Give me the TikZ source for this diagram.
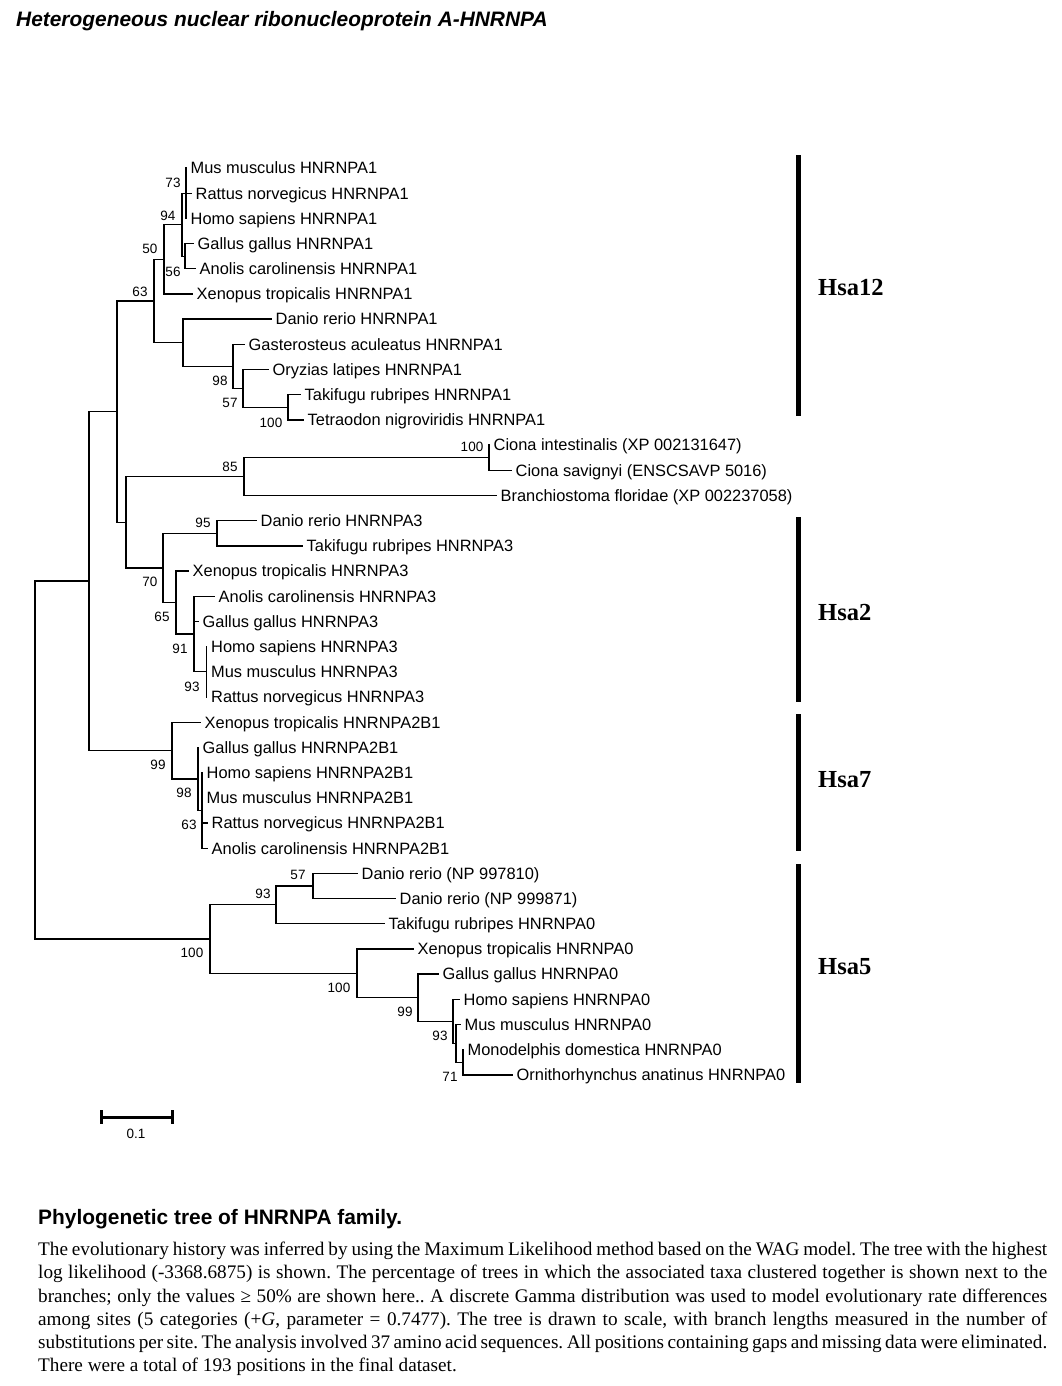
\documentclass[tikz,border=0pt]{standalone}
\usepackage{fontspec}
\setmainfont{Liberation Serif}
\setsansfont{Liberation Sans}
\tikzset{
  branch/.style={line width=1.3pt, line cap=rect},
  leaf/.style={anchor=west, inner xsep=4.5pt, inner ysep=0pt, text height=11.7pt, text depth=0pt, font=\sffamily\fontsize{16.4}{18}\selectfont},
  boot/.style={inner sep=0pt, text height=9.7pt, text depth=0pt, font=\sffamily\fontsize{13.5}{15}\selectfont},
  chrom/.style={line width=5pt},
  chromlabel/.style={anchor=west, inner sep=0pt, font=\bfseries\fontsize{24.5}{28}\selectfont}
}
\begin{document}
\begin{tikzpicture}[x=1pt,y=-1pt]
\useasboundingbox (0,0) rectangle (1061,1386);

\node[anchor=base west, inner sep=0pt, font=\sffamily\bfseries\itshape\fontsize{20.9}{24}\selectfont] (title) at (16,27) {Heterogeneous nuclear ribonucleoprotein A-HNRNPA};

% taxa
\node[leaf] (mmA1) at (186,168.0) {Mus musculus HNRNPA1};
\node[leaf] (rnA1) at (191,193.2) {Rattus norvegicus HNRNPA1};
\node[leaf] (hsA1) at (186,218.4) {Homo sapiens HNRNPA1};
\node[leaf] (ggA1) at (193,243.6) {Gallus gallus HNRNPA1};
\node[leaf] (acA1) at (195,268.8) {Anolis carolinensis HNRNPA1};
\node[leaf] (xtA1) at (192,294.0) {Xenopus tropicalis HNRNPA1};
\node[leaf] (drA1) at (271,319.1) {Danio rerio HNRNPA1};
\node[leaf] (gaA1) at (244,344.3) {Gasterosteus aculeatus HNRNPA1};
\node[leaf] (olA1) at (268,369.5) {Oryzias latipes HNRNPA1};
\node[leaf] (trA1) at (300,394.7) {Takifugu rubripes HNRNPA1};
\node[leaf] (tnA1) at (303,419.9) {Tetraodon nigroviridis HNRNPA1};
\node[leaf] (ciCI) at (489,445.1) {Ciona intestinalis (XP 002131647)};
\node[leaf] (csCI) at (511,470.3) {Ciona savignyi (ENSCSAVP 5016)};
\node[leaf] (bfBR) at (496,495.5) {Branchiostoma floridae (XP 002237058)};
\node[leaf] (drA3) at (256,520.7) {Danio rerio HNRNPA3};
\node[leaf] (trA3) at (302,545.9) {Takifugu rubripes HNRNPA3};
\node[leaf] (xtA3) at (188,571.0) {Xenopus tropicalis HNRNPA3};
\node[leaf] (acA3) at (214,596.2) {Anolis carolinensis HNRNPA3};
\node[leaf] (ggA3) at (198,621.4) {Gallus gallus HNRNPA3};
\node[leaf] (hsA3) at (206.5,646.6) {Homo sapiens HNRNPA3};
\node[leaf] (mmA3) at (206.5,671.8) {Mus musculus HNRNPA3};
\node[leaf] (rnA3) at (206.5,697.0) {Rattus norvegicus HNRNPA3};
\node[leaf] (xtA2) at (200,722.2) {Xenopus tropicalis HNRNPA2B1};
\node[leaf] (ggA2) at (198,747.4) {Gallus gallus HNRNPA2B1};
\node[leaf] (hsA2) at (202,772.6) {Homo sapiens HNRNPA2B1};
\node[leaf] (mmA2) at (202,797.8) {Mus musculus HNRNPA2B1};
\node[leaf] (rnA2) at (207,823.0) {Rattus norvegicus HNRNPA2B1};
\node[leaf] (acA2) at (207,848.2) {Anolis carolinensis HNRNPA2B1};
\node[leaf] (drA0a) at (357,873.3) {Danio rerio (NP 997810)};
\node[leaf] (drA0b) at (395,898.5) {Danio rerio (NP 999871)};
\node[leaf] (trA0) at (384,923.7) {Takifugu rubripes HNRNPA0};
\node[leaf] (xtA0) at (413,948.9) {Xenopus tropicalis HNRNPA0};
\node[leaf] (ggA0) at (438,974.1) {Gallus gallus HNRNPA0};
\node[leaf] (hsA0) at (459,999.3) {Homo sapiens HNRNPA0};
\node[leaf] (mmA0) at (460,1024.5) {Mus musculus HNRNPA0};
\node[leaf] (mdA0) at (463,1049.7) {Monodelphis domestica HNRNPA0};
\node[leaf] (oaA0) at (512,1074.9) {Ornithorhynchus anatinus HNRNPA0};

% inner nodes
\coordinate (n73) at (186,193.2);
\coordinate (n56) at (185,256.2);
\coordinate (n94) at (182,224.7);
\coordinate (n50) at (164,259.4);
\coordinate (n100a) at (288,407.3);
\coordinate (n57a) at (243,388.4);
\coordinate (n98a) at (233,366.4);
\coordinate (nfish) at (183,342.7);
\coordinate (n63a) at (154,301.1);
\coordinate (n100b) at (489,457.7);
\coordinate (n85) at (244,476.6);
\coordinate (n95) at (217,533.3);
\coordinate (n93a) at (206.5,671.8);
\coordinate (n91) at (194,634);
\coordinate (n65) at (176,602.5);
\coordinate (n70) at (163,567.9);
\coordinate (nmid) at (126,522.2);
\coordinate (nup) at (117,411.7);
\coordinate (n63b) at (202,810.4);
\coordinate (n98b) at (198,778.9);
\coordinate (n99a) at (172,750.5);
\coordinate (ntop) at (89,581.1);
\coordinate (n57b) at (313,885.9);
\coordinate (n93b) at (276,904.8);
\coordinate (n71) at (463,1062.3);
\coordinate (nmm) at (456,1043.4);
\coordinate (n93c) at (453,1021.4);
\coordinate (n99b) at (418,997.7);
\coordinate (n100d) at (357,973.3);
\coordinate (n100c) at (210,939.1);
\coordinate (root) at (35,760.1);

% HNRNPA1
\draw[branch] (mmA1.west) -| (n73) |- (hsA1.west);
\draw[branch] (n73) -- (rnA1.west);
\draw[branch] (ggA1.west) -| (n56) |- (acA1.west);
\draw[branch] (n73) -| (n94) |- (n56);
\draw[branch] (n94) -| (n50) |- (xtA1.west);
\draw[branch] (trA1.west) -| (n100a) |- (tnA1.west);
\draw[branch] (olA1.west) -| (n57a) |- (n100a);
\draw[branch] (gaA1.west) -| (n98a) |- (n57a);
\draw[branch] (drA1.west) -| (nfish) |- (n98a);
\draw[branch] (n50) -| (n63a) |- (nfish);
% Ciona, Branchiostoma
\draw[branch] (ciCI.west) -| (n100b) |- (csCI.west);
\draw[branch] (n100b) -| (n85) |- (bfBR.west);
% HNRNPA3
\draw[branch] (drA3.west) -| (n95) |- (trA3.west);
\draw[branch] (hsA3.west) -| (n93a) |- (rnA3.west);
\draw[branch] (acA3.west) -| (n91) |- (n93a);
\draw[branch] (ggA3.west) -| (n91);
\draw[branch] (xtA3.west) -| (n65) |- (n91);
\draw[branch] (n95) -| (n70) |- (n65);
\draw[branch] (n85) -| (nmid) |- (n70);
\draw[branch] (n63a) -| (nup) |- (nmid);
% HNRNPA2B1
\draw[branch] (hsA2.west) -| (n63b) |- (acA2.west);
\draw[branch] (rnA2.west) -| (n63b);
\draw[branch] (ggA2.west) -| (n98b) |- (n63b);
\draw[branch] (xtA2.west) -| (n99a) |- (n98b);
\draw[branch] (nup) -| (ntop) |- (n99a);
% HNRNPA0
\draw[branch] (drA0a.west) -| (n57b) |- (drA0b.west);
\draw[branch] (n57b) -| (n93b) |- (trA0.west);
\draw[branch] (mdA0.west) -| (n71) |- (oaA0.west);
\draw[branch] (mmA0.west) -| (nmm) |- (n71);
\draw[branch] (hsA0.west) -| (n93c) |- (nmm);
\draw[branch] (ggA0.west) -| (n99b) |- (n93c);
\draw[branch] (xtA0.west) -| (n100d) |- (n99b);
\draw[branch] (n93b) -| (n100c) |- (n100d);
\draw[branch] (ntop) -| (root) |- (n100c);

% bootstrap values
\node[boot] (b73) at (173,183) {73};
\node[boot] (b94) at (168,216) {94};
\node[boot] (b50) at (150,249) {50};
\node[boot] (b56) at (173,272) {56};
\node[boot] (b63a) at (140,292) {63};
\node[boot] (b98a) at (220,381) {98};
\node[boot] (b57a) at (230,403) {57};
\node[boot] (b100a) at (271,423) {100};
\node[boot] (b100b) at (472,447) {100};
\node[boot] (b85) at (230,467) {85};
\node[boot] (b95) at (203,523) {95};
\node[boot] (b70) at (150,582) {70};
\node[boot] (b65) at (162,617) {65};
\node[boot] (b91) at (180,649) {91};
\node[boot] (b93a) at (192,687) {93};
\node[boot] (b99a) at (158,765) {99};
\node[boot] (b98b) at (184,793) {98};
\node[boot] (b63b) at (189,825) {63};
\node[boot] (b100c) at (192,953) {100};
\node[boot] (b93b) at (263,894) {93};
\node[boot] (b57b) at (298,875) {57};
\node[boot] (b100d) at (339,988) {100};
\node[boot] (b99b) at (405,1012) {99};
\node[boot] (b93c) at (440,1036) {93};
\node[boot] (b71) at (450,1077) {71};

% chromosomes
\draw[chrom] (798,155) -- (798,416);
\node[chromlabel] (hsa12) at (818,288) {Hsa12};
\draw[chrom] (798,517) -- (798,702);
\node[chromlabel] (hsa2) at (818,613) {Hsa2};
\draw[chrom] (798,714) -- (798,851);
\node[chromlabel] (hsa7) at (818,780) {Hsa7};
\draw[chrom] (798,864) -- (798,1083);
\node[chromlabel] (hsa5) at (818,967) {Hsa5};

% scale bar
\draw[line width=3pt] (101,1117) -- (172,1117);
\draw[line width=3pt] (101,1110) -- (101,1124);
\draw[line width=3pt] (172,1110) -- (172,1124);
\node[boot] (scale) at (136,1134) {0.1};

% legend
\node[anchor=base west, inner sep=0pt, font=\sffamily\bfseries\fontsize{20.9}{24}\selectfont] (caption) at (38,1224) {Phylogenetic tree of HNRNPA family.};
\node[anchor=north west, inner sep=0pt, text width=1009pt, font=\fontsize{19.2}{23.2}\selectfont] (legend) at (38,1242) {\frenchspacing\spaceskip=0.14em plus 0.4em minus 0.02em
\hbox to \linewidth{The evolutionary history was inferred by using the Maximum Likelihood method based on the WAG model. The tree with the highest}
\hbox to \linewidth{log likelihood (-3368.6875) is shown. The percentage of trees in which the associated taxa clustered together is shown next to the}
\hbox to \linewidth{branches; only the values ≥ 50\% are shown here.. A discrete Gamma distribution was used to model evolutionary rate differences}
\hbox to \linewidth{among sites (5 categories (+\textit{G}, parameter = 0.7477). The tree is drawn to scale, with branch lengths measured in the number of}
\hbox to \linewidth{substitutions per site. The analysis involved 37 amino acid sequences. All positions containing gaps and missing data were eliminated.}
\spaceskip=0pt
\hbox{There were a total of 193 positions in the final dataset.}};
\end{tikzpicture}
\end{document}
